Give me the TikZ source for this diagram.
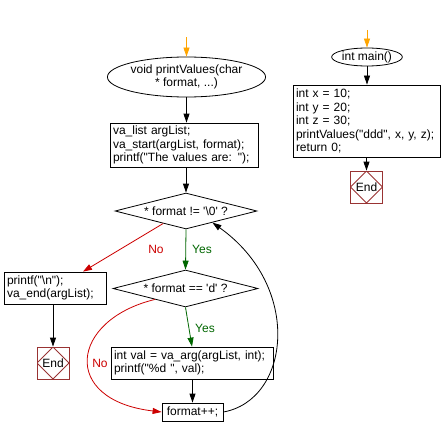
\documentclass[tikz,border=0pt]{standalone}
\usepackage{fontspec}
\setmainfont{Liberation Sans}[Ligatures=TeXOff]
\usetikzlibrary{arrows.meta,shapes.geometric,calc}
\definecolor{noRed}{HTML}{CC0000}
\definecolor{yesGreen}{HTML}{006600}
\definecolor{endRed}{HTML}{993333}
\definecolor{startOrange}{HTML}{FFA500}
\begin{document}
\begin{tikzpicture}[x=1pt,y=-1pt,
  font=\fontsize{12}{13.5}\selectfont,
  line width=0.8pt,
  arr/.style={-{Triangle[length=9pt,width=6pt]}},
  codebox/.style={draw, rectangle, align=left, inner xsep=3pt, inner ysep=0pt},
  startell/.style={draw, ellipse, inner sep=0pt, align=center},
  decision/.style={draw, diamond, aspect=4, inner sep=0pt},
  endbox/.style={draw=endRed, rectangle, minimum width=32pt, minimum height=32pt, inner sep=0pt,
    path picture={\draw[endRed] (path picture bounding box.north) -- (path picture bounding box.east) -- (path picture bounding box.south) -- (path picture bounding box.west) -- cycle;}},
  nolbl/.style={text=noRed, inner sep=0pt},
  yeslbl/.style={text=yesGreen, inner sep=0pt}
]
\useasboundingbox (0,0) rectangle (442,436);

% left flow
\coordinate (o1) at (186.5,37);
\node[startell, minimum width=139pt, minimum height=40pt] (ell1) at (186.5,77) {void printValues(char\\* format, ...)};
\node[codebox, text width=142pt, minimum height=44pt] (box1) at (184,145)
  {va\_list argList;\\va\_start(argList, format);\\printf("The values are: ");};
\node[decision, minimum width=142pt, minimum height=36pt] (d1) at (186,211) {* format != '\textbackslash 0' ?};
\node[codebox, text width=96pt, minimum height=32pt] (box2) at (55,288)
  {printf("\textbackslash n");\\va\_end(argList);};
\node[endbox] (end1) at (53,363) {End};
\node[decision, minimum width=145pt, minimum height=37pt] (d2) at (185.5,288.5) {* format == 'd' ?};
\node[codebox, text width=156pt, minimum height=32pt] (box3) at (192,363)
  {int val = va\_arg(argList, int);\\printf("\%d ", val);};
\node[draw, rectangle, inner sep=0pt, minimum width=61pt, minimum height=18pt] (box4) at (192.5,412) {format++;};

% right flow
\coordinate (o2) at (367,30);
\node[startell, minimum width=68pt, minimum height=18pt] (ell2) at (367,57) {int main()};
\node[codebox, text width=141pt, minimum height=72pt] (box5) at (366.5,121)
  {int x = 10;\\int y = 20;\\int z = 30;\\printValues("ddd", x, y, z);\\return 0;};
\node[endbox] (end2) at (366.5,187) {End};

% connectors left
\draw[arr, startOrange] (o1) -- (ell1.north);
\draw[arr] (ell1.south) -- (ell1.south |- box1.north);
\draw[arr] (d1.north |- box1.south) -- (d1.north);
\draw[arr, yesGreen] (d1.south) -- (d2.north);
\draw[arr, yesGreen] (d2.south) -- (box3.north);
\draw[arr] (box4.north |- box3.south) -- (box4.north);
\draw[arr] (box4.east) .. controls (290,400) and (303,287) .. ($(d1.south)!0.37!(d1.east)$);
\draw[arr, noRed] ($(d1.west)!0.68!(d1.south)$) -- ([xshift=28pt]box2.north);
\draw[arr, noRed] ($(d2.west)!0.58!(d2.south)$) .. controls (70,320) and (60,400) .. (box4.west);
\draw[arr] (end1.north |- box2.south) -- (end1.north);

% connectors right
\draw[arr, startOrange] (o2) -- (ell2.north);
\draw[arr] (ell2.south) -- (ell2.south |- box5.north);
\draw[arr] (end2.north |- box5.south) -- (end2.north);

% labels
\node[nolbl] (lno1) at (156,249) {No};
\node[yeslbl] (lyes1) at (202,249) {Yes};
\node[yeslbl] (lyes2) at (205,328) {Yes};
\node[nolbl] (lno2) at (100,363) {No};
\end{tikzpicture}
\end{document}
